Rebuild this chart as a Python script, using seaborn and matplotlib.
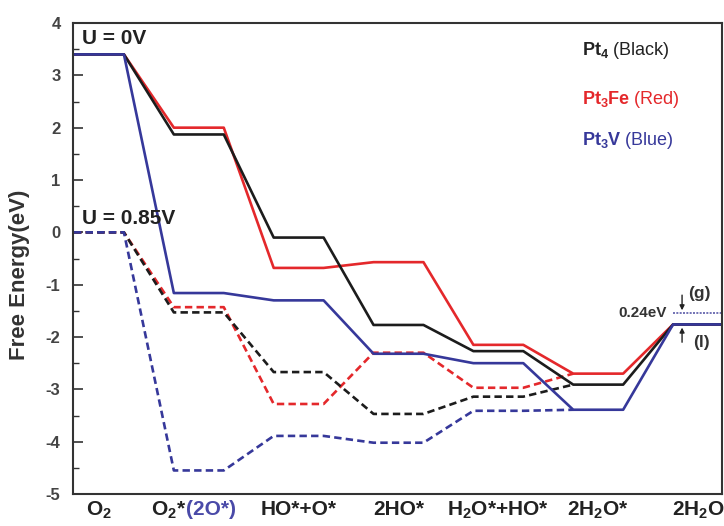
import numpy as np
import pandas as pd
import seaborn as sns
import matplotlib
matplotlib.use("Agg")
import matplotlib.pyplot as plt
import matplotlib.transforms as mtransforms
from matplotlib.ticker import MultipleLocator

# ---------------- data ----------------
states = ["O2", "O2*(2O*)", "HO*+O*", "2HO*", "H2O*+HO*", "2H2O*", "2H2O"]
state_labels = [r"$\mathbf{O_2}$", "", "HO*+O*", "2HO*",
                r"$\mathbf{H_2O}$*+HO*", r"$\mathbf{2H_2O}$*", r"$\mathbf{2H_2O}$"]

pt4_u0 = [3.40, 1.87, -0.10, -1.77, -2.27, -2.91, -1.76]
pt3fe_u0 = [3.40, 2.00, -0.68, -0.57, -2.15, -2.70, -1.76]
pt3v_u0 = [3.40, -1.16, -1.30, -2.32, -2.50, -3.39, -1.76]

pt4_u085 = [0.00, -1.53, -2.67, -3.47, -3.14, -2.91]
pt3fe_u085 = [0.00, -1.43, -3.28, -2.30, -2.97, -2.70]
pt3v_u085 = [0.00, -4.55, -3.89, -4.02, -3.41, -3.39]

h2o_gas = -1.54
yticks = [-5, -4, -3, -2, -1, 0, 1, 2, 3, 4]

BLACK = "#1c1c1c"
RED = "#e4282b"
BLUE = "#36389a"

# ---------------- style ----------------
sns.set_style("white")
plt.rcParams["font.family"] = ["Liberation Sans", "DejaVu Sans"]
plt.rcParams["mathtext.fontset"] = "custom"
plt.rcParams["mathtext.rm"] = "Liberation Sans"
plt.rcParams["mathtext.bf"] = "Liberation Sans:bold"
plt.rcParams["mathtext.it"] = "Liberation Sans:italic"

fig = plt.figure(figsize=(7.24, 5.26), dpi=100)
ax = fig.add_axes([73 / 724, 32 / 526, 649 / 724, 471 / 526])

HW = 0.25  # half width of each level


def step_frame(values, stop_at_last_left=False):
    xs, ys = [], []
    n = len(values)
    for i, v in enumerate(values):
        if stop_at_last_left and i == n - 1:
            xs.append(i - HW)
            ys.append(v)
        else:
            xs.extend([i - HW, i + HW])
            ys.extend([v, v])
    return pd.DataFrame({"x": xs, "y": ys})


lw = 1.9
# dashed (U = 0.85 V)
for vals, col in [(pt3fe_u085, RED), (pt4_u085, BLACK), (pt3v_u085, BLUE)]:
    df = step_frame(vals, stop_at_last_left=True)
    sns.lineplot(data=df, x="x", y="y", sort=False, estimator=None, color=col,
                 lw=lw, dashes=False, ax=ax, linestyle=(0, (2.8, 1.6)))

# solid (U = 0 V)
for vals, col in [(pt3fe_u0, RED), (pt4_u0, BLACK), (pt3v_u0, BLUE)]:
    df = step_frame(vals)
    sns.lineplot(data=df, x="x", y="y", sort=False, estimator=None, color=col,
                 lw=lw, ax=ax)

# gas phase water level (dotted)
last = len(states) - 1
ax.plot([last - HW, last + HW], [h2o_gas, h2o_gas], color="#5a5aa8", lw=1.2,
        linestyle=(0, (1.2, 0.8)))

# ---------------- axes ----------------
XFS = 15
ax.set_xlim(-0.26, 6.24)
ax.set_ylim(-5, 4)
ax.set_xticks(range(len(states)))
ax.set_xticklabels(state_labels, fontsize=XFS, fontweight="bold", color="#222222")
ax.tick_params(axis="x", length=0, pad=4)
ax.set_yticks(yticks)
ax.set_yticklabels([str(t) for t in yticks], fontsize=12, fontweight="bold",
                   color="#444444")
ax.yaxis.set_minor_locator(MultipleLocator(0.5))
ax.tick_params(axis="y", which="major", direction="in", length=7, width=1.2,
               color="#333333", pad=9, left=True, right=False)
ax.tick_params(axis="y", which="minor", direction="in", length=4, width=1.0,
               color="#333333", left=True, right=False)
for s in ax.spines.values():
    s.set_color("#333333")
    s.set_linewidth(1.5)

ax.set_xlabel("")
ax.set_ylabel("Free Energy(eV)", fontsize=16, fontweight="bold", color="#333333")
ax.yaxis.set_label_coords(-0.066, 0.465)

# split label for O2*(2O*)
trans = mtransforms.blended_transform_factory(ax.transData, ax.transAxes)
trans_off = mtransforms.offset_copy(trans, fig=fig, y=-4, units="points")
ax.text(1 - 0.13, 0, r"$\mathbf{O_2}$*", transform=trans_off, ha="right", va="top",
        fontsize=XFS, fontweight="bold", color="#222222")
ax.text(1 - 0.13, 0, "(2O*)", transform=trans_off, ha="left", va="top",
        fontsize=XFS, fontweight="bold", color="#4a4aa8")

# ---------------- annotations ----------------
ax.text(-0.17, 3.71, "U = 0V", fontsize=15, fontweight="bold", color="#222222",
        ha="left", va="center")
ax.text(-0.17, 0.27, "U = 0.85V", fontsize=15, fontweight="bold", color="#222222",
        ha="left", va="center")

ax.text(4.84, 3.47, r"$\mathbf{Pt_4}$ (Black)", fontsize=13, color="#222222",
        ha="left", va="center")
ax.text(4.84, 2.53, r"$\mathbf{Pt_3Fe}$ (Red)", fontsize=13, color=RED,
        ha="left", va="center")
ax.text(4.84, 1.75, r"$\mathbf{Pt_3V}$ (Blue)", fontsize=13, color=BLUE,
        ha="left", va="center")

ax.text(5.69, -1.54, "0.24eV", fontsize=11, fontweight="bold", color="#333333",
        ha="right", va="center")
ax.text(5.90, -1.16, "(g)", fontsize=12.5, fontweight="bold", color="#333333",
        ha="left", va="center")
ax.text(5.95, -2.10, "(l)", fontsize=12.5, fontweight="bold", color="#333333",
        ha="left", va="center")
ax.annotate("", xy=(5.84, -1.49), xytext=(5.84, -1.20),
            arrowprops=dict(arrowstyle="-|>", color="#222222", lw=1.0,
                            mutation_scale=7, shrinkA=0, shrinkB=0))
ax.annotate("", xy=(5.84, -1.82), xytext=(5.84, -2.10),
            arrowprops=dict(arrowstyle="-|>", color="#222222", lw=1.0,
                            mutation_scale=7, shrinkA=0, shrinkB=0))

fig.savefig("out.png", dpi=100)
